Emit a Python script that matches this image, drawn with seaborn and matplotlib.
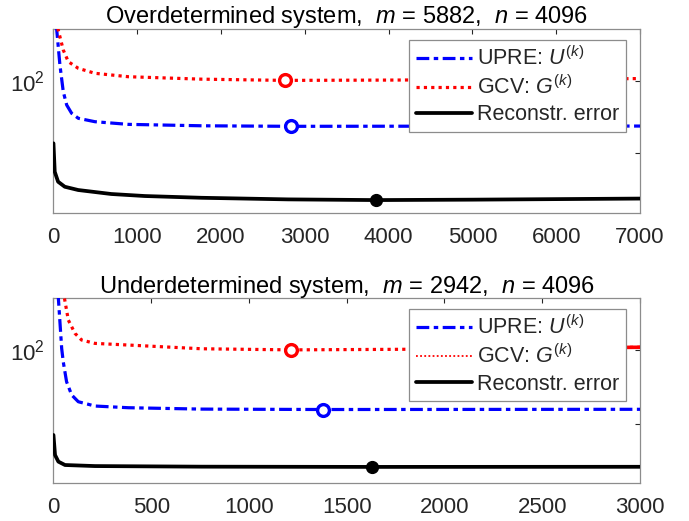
import numpy as np
import pandas as pd
import matplotlib
matplotlib.use("Agg")
import matplotlib.pyplot as plt
from matplotlib.lines import Line2D
import seaborn as sns

# ---------------- data ----------------
# Overdetermined system (m = 5882, n = 4096)
over_upre_k = [0, 20, 38, 77, 117, 158, 217, 297, 495, 893, 1770, 2830, 4500, 7000]
over_upre = [5000, 1200, 516, 164.7, 70.5, 46.2, 35.5, 30.3, 27.2, 25.0, 23.9, 23.5, 23.6, 23.7]
over_gcv_k = [0, 30, 57, 117, 177, 297, 495, 893, 1770, 2760, 4000, 5500, 7000]
over_gcv = [3000, 900, 500, 265, 183, 148, 126.5, 113.5, 105, 101, 102, 104, 107]
over_err_k = [0, 15, 55, 135, 295, 690, 1090, 1770, 2800, 3845, 5000, 7000]
over_err = [13.7, 5.56, 4.05, 3.45, 3.11, 2.74, 2.57, 2.43, 2.31, 2.26, 2.29, 2.37]

# Underdetermined system (m = 2942, n = 4096)
under_upre_k = [0, 15, 25, 42, 50, 67, 93, 127, 212, 383, 758, 1380, 2200, 3000]
under_upre = [3000, 900, 504, 105, 69.5, 37.3, 24.7, 20.0, 17.5, 16.6, 15.9, 15.7, 15.75, 15.8]
under_gcv_k = [0, 30, 56, 76, 110, 144, 212, 383, 758, 1215, 2000, 3000]
under_gcv = [3000, 1000, 504, 254, 168, 136.5, 123, 116.8, 104, 100.5, 103, 109]
under_err_k = [0, 8, 25, 59, 212, 758, 1630, 2300, 3000]
under_err = [7.1, 3.81, 3.10, 2.79, 2.70, 2.65, 2.63, 2.635, 2.64]

titles = [r"Overdetermined system,  $m$ = 5882,  $n$ = 4096",
          r"Underdetermined system,  $m$ = 2942,  $n$ = 4096"]
legend_labels = [r"UPRE: $U^{(k)}$", r"GCV: $G^{(k)}$", "Reconstr. error"]
xticks_list = [[0, 1000, 2000, 3000, 4000, 5000, 6000, 7000],
               [0, 500, 1000, 1500, 2000, 2500, 3000]]
xmax_list = [7000, 3000]
ylims = [(1.5, 516), (1.58, 500)]

# ---------------- style ----------------
sns.set_style("white")
plt.rcParams["font.family"] = ["Liberation Sans", "DejaVu Sans"]
plt.rcParams["mathtext.fontset"] = "custom"
plt.rcParams["mathtext.rm"] = "Liberation Sans"
plt.rcParams["mathtext.it"] = "Liberation Sans:italic"
plt.rcParams["mathtext.bf"] = "Liberation Sans:bold"

BLUE = "#0000ff"
RED = "#ff0000"
BLACK = "#000000"
LW = 2.3
DASHDOT = (0, (4.0, 1.4, 1.4, 1.4))
DOTTED = (0, (1.0, 1.3))

fig = plt.figure(figsize=(6.89, 5.21), dpi=100)
ax_top = fig.add_axes([0.0776, 0.5912, 0.8513, 0.3531])
ax_bot = fig.add_axes([0.0776, 0.0724, 0.8513, 0.3550])

panels = [
    (ax_top, over_upre_k, over_upre, over_gcv_k, over_gcv, over_err_k, over_err),
    (ax_bot, under_upre_k, under_upre, under_gcv_k, under_gcv, under_err_k, under_err),
]

for i, (ax, uk, uv, gk, gv, ek, ev) in enumerate(panels):
    sns.lineplot(x=uk, y=uv, ax=ax, color=BLUE, lw=LW, linestyle=DASHDOT, zorder=3)
    sns.lineplot(x=gk, y=gv, ax=ax, color=RED, lw=LW, linestyle=DOTTED, zorder=3)
    sns.lineplot(x=ek, y=ev, ax=ax, color=BLACK, lw=LW + 0.4, zorder=3)
    if i == 1:
        # dense end portion of the GCV curve renders solid
        kk = np.linspace(2930, xmax_list[i], 5)
        sns.lineplot(x=kk, y=np.interp(kk, gk, gv), ax=ax, color=RED, lw=LW + 0.3, zorder=3)

    # minima markers
    ui, gi, ei = int(np.argmin(uv)), int(np.argmin(gv)), int(np.argmin(ev))
    ax.plot(uk[ui], uv[ui], "o", ms=8.5, mfc="white", mec=BLUE, mew=2.4, zorder=5)
    ax.plot(gk[gi], gv[gi], "o", ms=8.5, mfc="white", mec=RED, mew=2.4, zorder=5)
    ax.plot(ek[ei], ev[ei], "o", ms=8.5, mfc=BLACK, mec=BLACK, zorder=5)

    ax.set_yscale("log")
    ax.set_xlim(0, xmax_list[i])
    ax.set_ylim(*ylims[i])
    ax.set_xticks(xticks_list[i])
    ax.set_xticklabels([str(t) for t in xticks_list[i]])
    ax.set_yticks([10, 100])
    ax.set_yticklabels(["", r"$10^{2}$"])
    ax.yaxis.set_minor_locator(matplotlib.ticker.NullLocator())
    ax.tick_params(axis="both", which="major", direction="in", length=3.5,
                   width=0.8, color="#262626", labelsize=16, labelcolor="#262626",
                   top=True, right=True)
    ax.tick_params(axis="x", pad=10)
    ax.tick_params(axis="y", pad=6)
    for s in ax.spines.values():
        s.set_color("#8c8c8c")
        s.set_linewidth(0.9)
    ax.set_xlabel("")
    ax.set_ylabel("")
    ax.set_title(titles[i], fontsize=17, pad=4, color="#000000")

    gcv_lw = LW if i == 0 else 1.3
    handles = [
        Line2D([], [], color=BLUE, lw=LW, linestyle=DASHDOT),
        Line2D([], [], color=RED, lw=gcv_lw, linestyle=DOTTED),
        Line2D([], [], color=BLACK, lw=LW + 0.4),
    ]
    leg = ax.legend(handles, legend_labels, loc="upper right",
                    bbox_to_anchor=(0.976, 0.94), borderaxespad=0,
                    fontsize=15.5, frameon=True, fancybox=False,
                    handlelength=2.6, handletextpad=0.25, borderpad=0.3,
                    labelspacing=0.25, framealpha=1.0)
    leg.get_frame().set_edgecolor("#8c8c8c")
    leg.get_frame().set_linewidth(0.9)
    leg.set_zorder(10)

fig.savefig("out.png", dpi=100)
